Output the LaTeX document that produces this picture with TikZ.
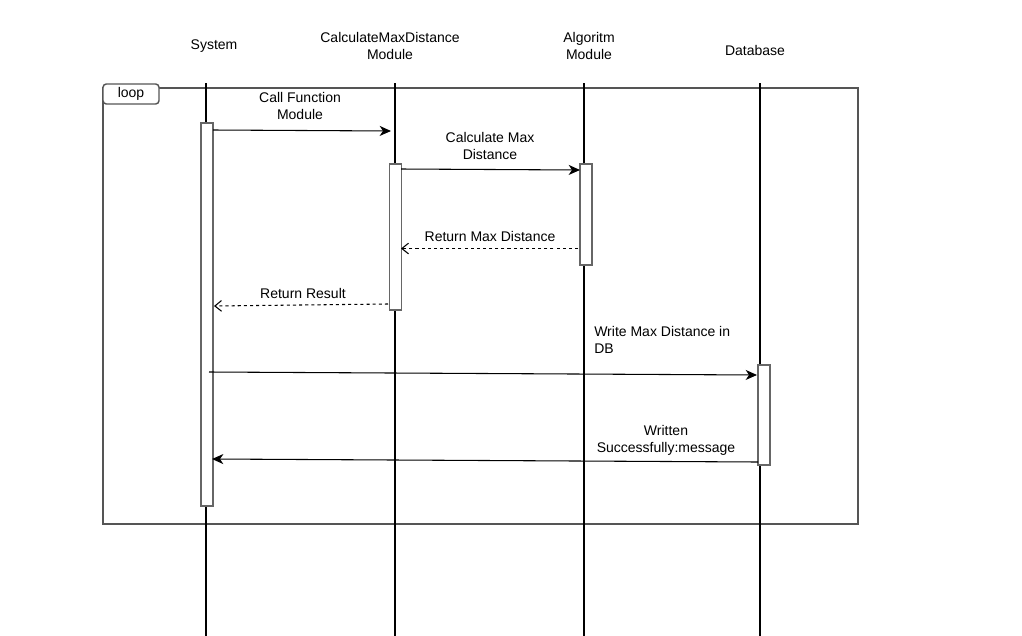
\documentclass[tikz,border=0pt]{standalone}
\usepackage{fontspec}
\setmainfont{Liberation Sans}
\usetikzlibrary{arrows.meta}
\definecolor{framegray}{HTML}{555555}
\definecolor{boxgray}{HTML}{666666}
\begin{document}
\begin{tikzpicture}[x=0.75pt,y=-0.75pt,
  lbl/.style={font=\fontsize{10.5}{12.75}\selectfont, align=center, inner sep=0pt},
  lifeline/.style={line width=1.5pt, black},
  act/.style={draw=boxgray, fill=white, line width=1pt, inner sep=0pt, minimum width=9pt},
  msg/.style={line width=0.8pt, -{Stealth[length=8.5pt,width=7.5pt,inset=2.5pt]}},
  ret/.style={line width=0.8pt, dash pattern=on 2.3pt off 2.3pt, -{Straight Barb[length=5pt,width=8pt]}}]
\useasboundingbox (0,0) rectangle (1022,636);
% loop frame
\draw[framegray, line width=1.1pt] (103,88) rectangle (858,524);
% headers
\node[lbl] (hsys) at (214,46) {System};
\node[lbl] (hcalc) at (390,46) {CalculateMaxDistance\\Module};
\node[lbl] (halg) at (589,46) {Algoritm\\Module};
\node[lbl] (hdb) at (755,50) {Database};
% lifelines
\coordinate (sysT) at (206,83); \coordinate (sysB) at (206,636);
\coordinate (calT) at (395,83); \coordinate (calB) at (395,636);
\coordinate (algT) at (584,83); \coordinate (algB) at (584,636);
\coordinate (dbT) at (760,83);  \coordinate (dbB) at (760,636);
\draw[lifeline] (sysT) -- (sysB);
\draw[lifeline] (calT) -- (calB);
\draw[lifeline] (algT) -- (algB);
\draw[lifeline] (dbT) -- (dbB);
% loop tab
\draw[framegray, fill=white, line width=1.1pt, rounded corners=2.5pt] (103,84) rectangle (159,104);
\node[lbl] (loop) at (131,94) {loop};
% activation boxes
\node[act, minimum height=287.25pt] (sysact) at (207,314.5) {};
\node[act, minimum height=109.5pt] (calact) at (395.5,237) {};
\node[act, minimum height=75.75pt] (algact) at (586,214.5) {};
\node[act, minimum height=75pt] (dbact) at (764,415) {};
% message end points
\coordinate (m1a) at (213,130); \coordinate (m1b) at (391,131);
\coordinate (m2a) at (401,169); \coordinate (m2b) at (580,170);
\coordinate (m3a) at (578,248.5); \coordinate (m3b) at (401,248.5);
\coordinate (m4a) at (388,304); \coordinate (m4b) at (214,306);
\coordinate (m5a) at (209,372); \coordinate (m5b) at (757,375);
\coordinate (m6a) at (758,462); \coordinate (m6b) at (212,459);
\draw[msg] (m1a) -- (m1b);
\draw[msg] (m2a) -- (m2b);
\draw[ret] (m3a) -- (m3b);
\draw[ret] (m4a) -- (m4b);
\draw[msg] (m5a) -- (m5b);
\draw[msg] (m6a) -- (m6b);
% labels
\node[lbl] (l1) at (300,106) {Call Function\\Module};
\node[lbl] (l2) at (490,146) {Calculate Max\\Distance};
\node[lbl] (l3) at (490,236) {Return Max Distance};
\node[lbl] (l4) at (303,293) {Return Result};
\node[lbl, align=left, anchor=west] (l5) at (594,340) {Write Max Distance in\\DB};
\node[lbl] (l6) at (666,440) {Written\\Successfully:message};
\end{tikzpicture}
\end{document}
